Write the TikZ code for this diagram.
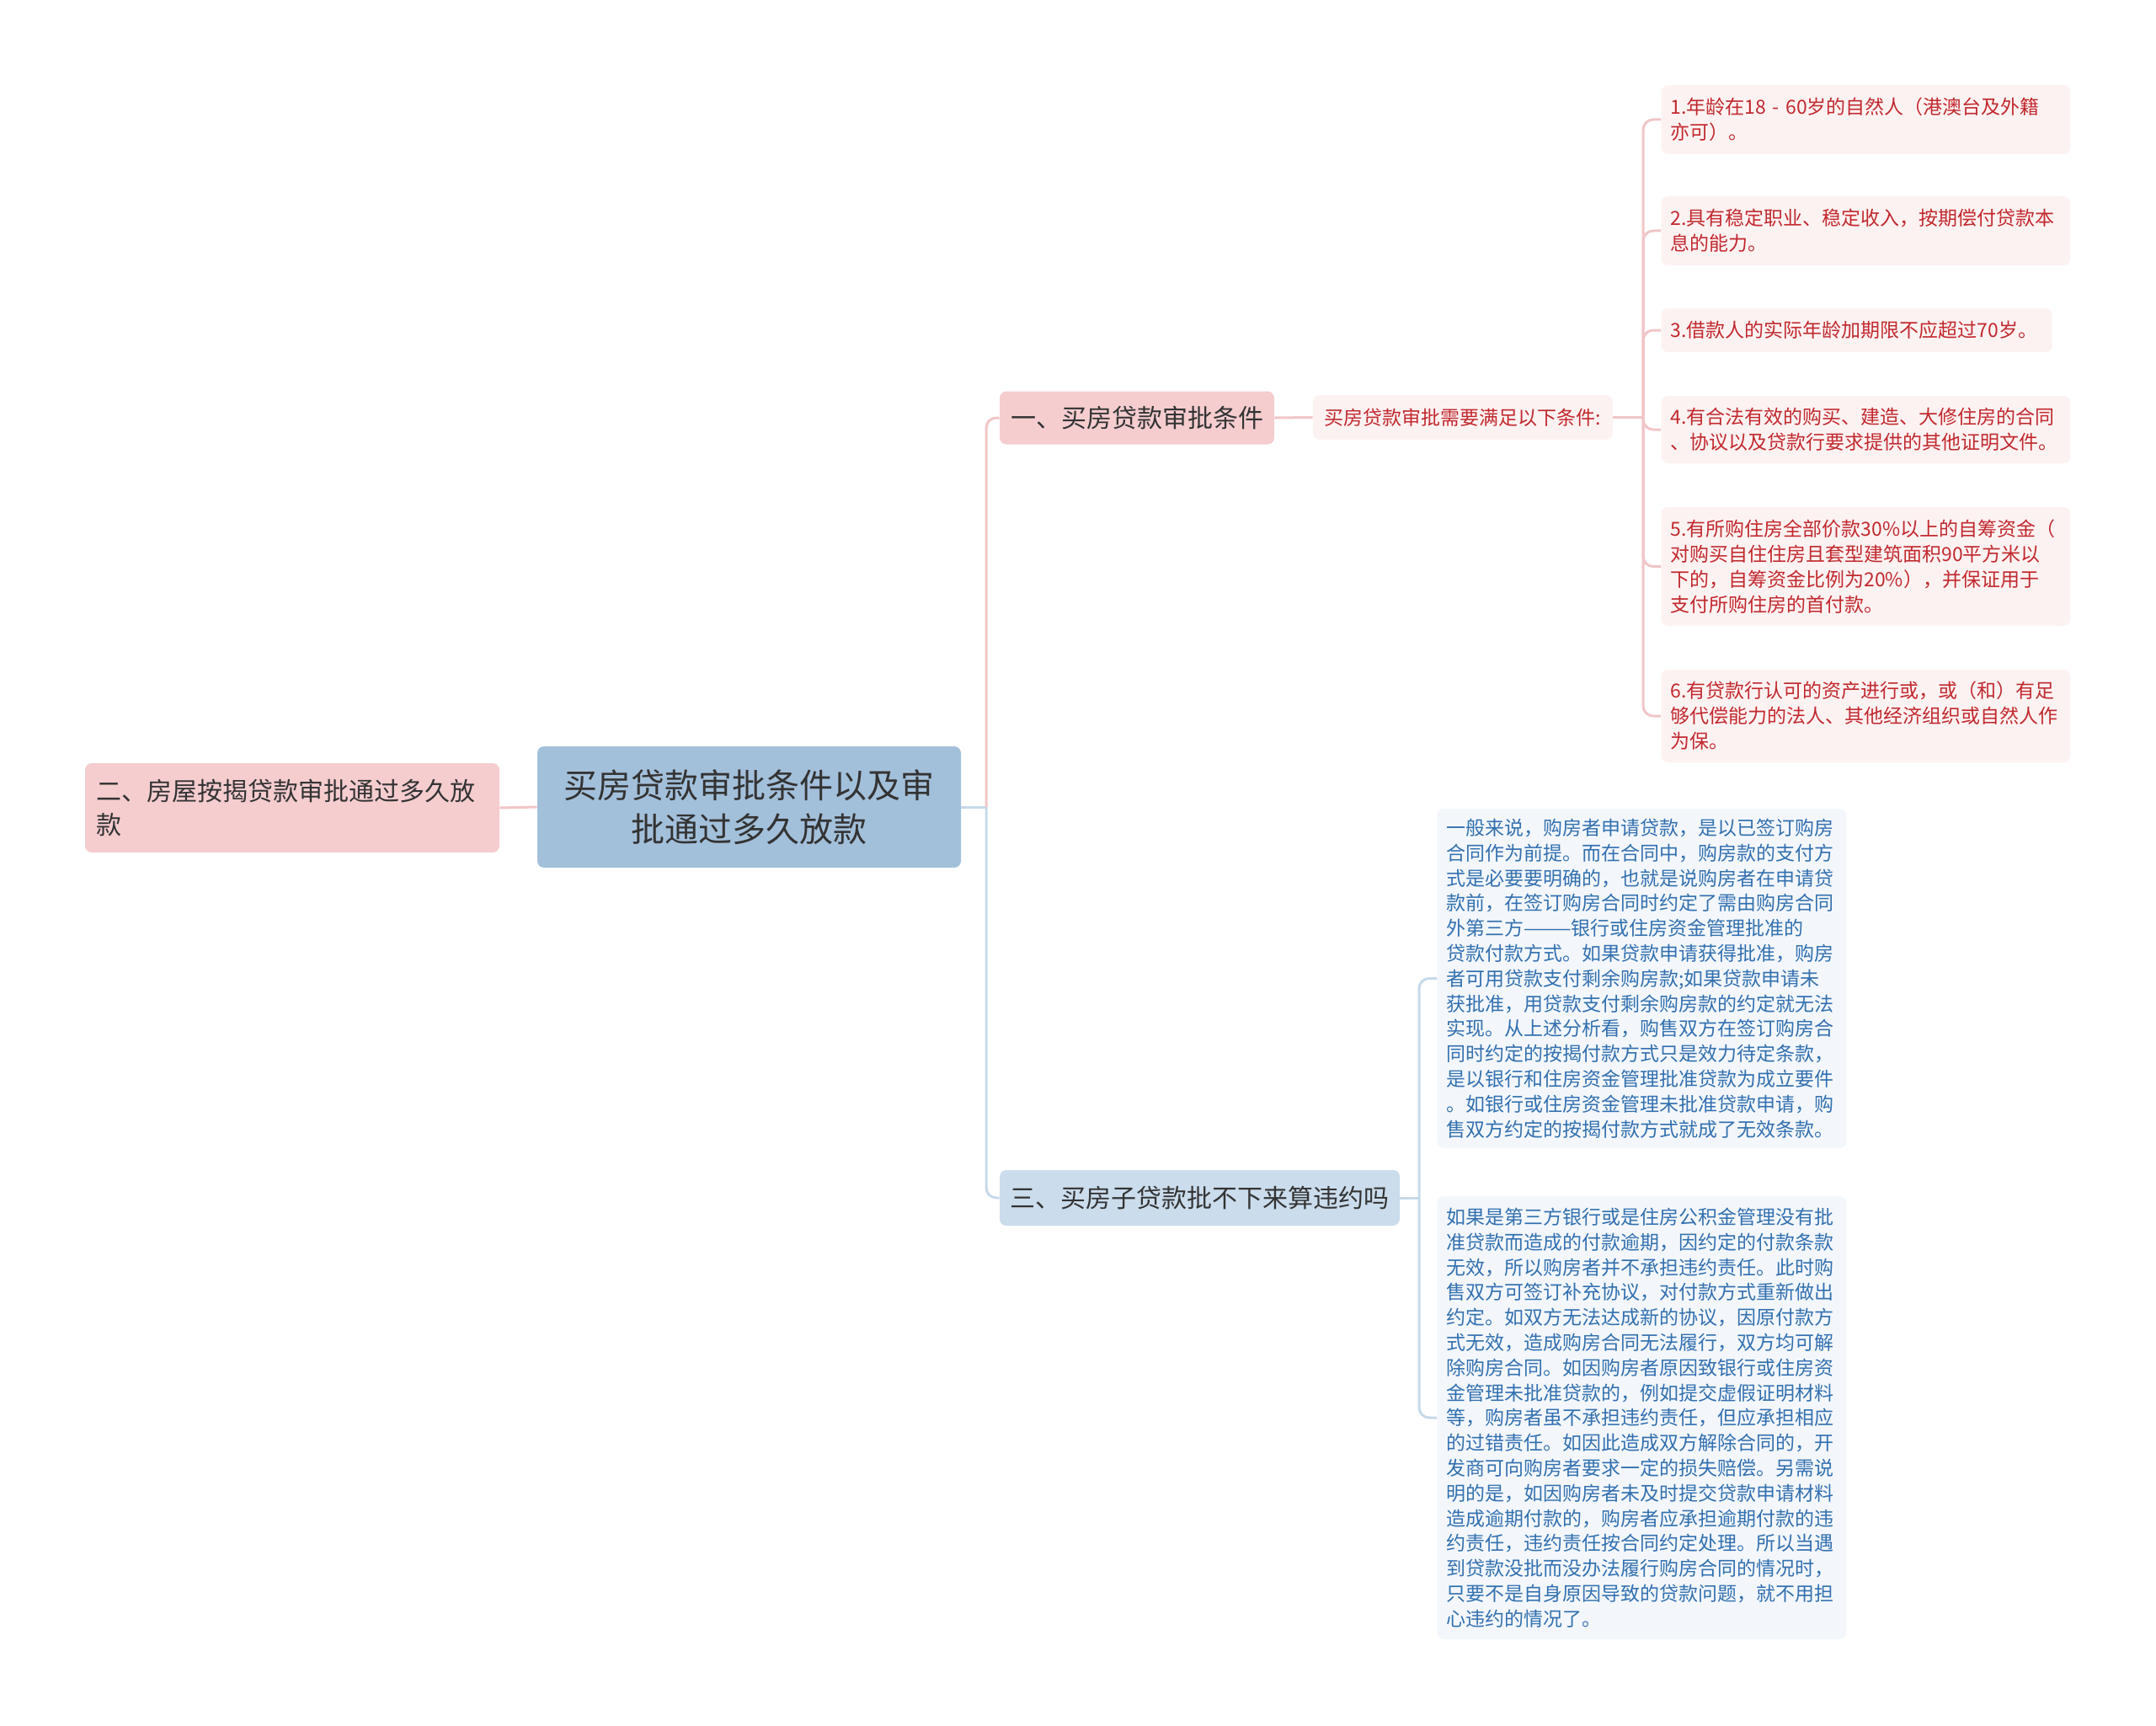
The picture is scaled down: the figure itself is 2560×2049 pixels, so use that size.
\documentclass[tikz,border=0pt]{standalone}
\usepackage{fontspec}
\setmainfont{Noto Sans CJK SC}
\usepackage{tikz}

\definecolor{rootblue}{HTML}{A3C0DB}
\definecolor{branchpink}{HTML}{F5CDCF}
\definecolor{branchblue}{HTML}{CBDCEC}
\definecolor{leafpink}{HTML}{FDF2F2}
\definecolor{leafblue}{HTML}{F3F7FB}
\definecolor{leafred}{HTML}{C1292E}
\definecolor{leafbluetext}{HTML}{3370B0}
\definecolor{darktext}{HTML}{333333}
\definecolor{linepink}{HTML}{F1C5C7}
\definecolor{lineblue}{HTML}{C7D9EA}

\tikzstyle{root}=[rounded corners=4pt,fill=rootblue,text=darktext,align=center,font=\fontsize{20}{26}\selectfont,minimum width=251.5pt,minimum height=72pt]
\tikzstyle{branch}=[rounded corners=4pt,text=darktext,font=\fontsize{15}{19.6}\selectfont]
\tikzstyle{pinkleaf}=[rounded corners=4pt,fill=leafpink,text=leafred,anchor=west,align=left,text width=232pt,inner xsep=5.5pt,font=\fontsize{11.5}{15}\selectfont]
\tikzstyle{blueleaf}=[rounded corners=4pt,fill=leafblue,text=leafbluetext,anchor=west,align=left,text width=232pt,inner xsep=5.5pt,font=\fontsize{11.5}{14.9}\selectfont]
\tikzstyle{pinkline}=[draw=linepink,line width=1.5pt]
\tikzstyle{blueline}=[draw=lineblue,line width=1.5pt]

\begin{document}
\begin{tikzpicture}[x=0.5pt,y=-0.5pt]
  \useasboundingbox (0,0) rectangle (2560,2049);

  \node[root] (root) at (889.5,958) {买房贷款审批条件以及审\\批通过多久放款};

  \node[branch,fill=branchpink,minimum width=163pt,minimum height=31.5pt] (sec1) at (1350,496) {一、买房贷款审批条件};
  \node[branch,fill=branchpink,align=left,text width=233pt,inner xsep=6.5pt,minimum height=53pt] (sec2) at (347,959) {二、房屋按揭贷款审批通过多久放\\款};
  \node[branch,fill=branchblue,minimum width=237.5pt,minimum height=33pt] (sec3) at (1424.5,1422) {三、买房子贷款批不下来算违约吗};

  \node[rounded corners=4pt,fill=leafpink,text=leafred,font=\fontsize{11.5}{15}\selectfont,minimum width=178pt,minimum height=26.5pt] (sum) at (1737,495.5) {买房贷款审批需要满足以下条件:};

  \node[pinkleaf,minimum height=41pt] (p1) at (1972,142) {1.年龄在18 - 60岁的自然人（港澳台及外籍\\亦可）。};
  \node[pinkleaf,minimum height=41pt] (p2) at (1972,274) {2.具有稳定职业、稳定收入，按期偿付贷款本\\息的能力。};
  \node[pinkleaf,text width=221pt,minimum height=26pt] (p3) at (1972,392) {3.借款人的实际年龄加期限不应超过70岁。};
  \node[pinkleaf,minimum height=40pt] (p4) at (1972,510) {4.有合法有效的购买、建造、大修住房的合同\\、协议以及贷款行要求提供的其他证明文件。};
  \node[pinkleaf,minimum height=70.5pt] (p5) at (1972,672.5) {5.有所购住房全部价款30\%以上的自筹资金（\\对购买自住住房且套型建筑面积90平方米以\\下的，自筹资金比例为20\%），并保证用于\\支付所购住房的首付款。};
  \node[pinkleaf,minimum height=55pt] (p6) at (1972,850) {6.有贷款行认可的资产进行或，或（和）有足\\够代偿能力的法人、其他经济组织或自然人作\\为保。};

  \node[blueleaf,minimum height=201.5pt] (b1) at (1706,1161.5) {一般来说，购房者申请贷款，是以已签订购房\\
合同作为前提。而在合同中，购房款的支付方\\
式是必要要明确的，也就是说购房者在申请贷\\
款前，在签订购房合同时约定了需由购房合同\\
外第三方———银行或住房资金管理批准的\\
贷款付款方式。如果贷款申请获得批准，购房\\
者可用贷款支付剩余购房款;如果贷款申请未\\
获批准，用贷款支付剩余购房款的约定就无法\\
实现。从上述分析看，购售双方在签订购房合\\
同时约定的按揭付款方式只是效力待定条款，\\
是以银行和住房资金管理批准贷款为成立要件\\
。如银行或住房资金管理未批准贷款申请，购\\
售双方约定的按揭付款方式就成了无效条款。};
  \node[blueleaf,minimum height=263pt] (b2) at (1706,1683) {如果是第三方银行或是住房公积金管理没有批\\
准贷款而造成的付款逾期，因约定的付款条款\\
无效，所以购房者并不承担违约责任。此时购\\
售双方可签订补充协议，对付款方式重新做出\\
约定。如双方无法达成新的协议，因原付款方\\
式无效，造成购房合同无法履行，双方均可解\\
除购房合同。如因购房者原因致银行或住房资\\
金管理未批准贷款的，例如提交虚假证明材料\\
等，购房者虽不承担违约责任，但应承担相应\\
的过错责任。如因此造成双方解除合同的，开\\
发商可向购房者要求一定的损失赔偿。另需说\\
明的是，如因购房者未及时提交贷款申请材料\\
造成逾期付款的，购房者应承担逾期付款的违\\
约责任，违约责任按合同约定处理。所以当遇\\
到贷款没批而没办法履行购房合同的情况时，\\
只要不是自身原因导致的贷款问题，就不用担\\
心违约的情况了。};

  % branch points
  \coordinate (bus1) at (1171,958);
  \coordinate (bus2) at (1951,495.5);
  \coordinate (bus3) at (1685,1422);

  \draw[blueline] (root.east) -- (bus1);
  \draw[pinkline,rounded corners=6pt] (bus1) |- (sec1.west);
  \draw[blueline,rounded corners=6pt] (bus1) |- (sec3.west);
  \draw[pinkline] (root.west) -- (sec2.east);

  \draw[pinkline] (sec1.east) -- (sum.west);
  \draw[pinkline] (sum.east) -- (bus2);
  \foreach \leaf in {p1,p2,p3,p4,p5,p6}
  \draw[pinkline,rounded corners=6pt] (bus2) |- (\leaf.west);

  \draw[blueline] (sec3.east) -- (bus3);
  \foreach \leaf in {b1,b2}
  \draw[blueline,rounded corners=6pt] (bus3) |- (\leaf.west);
\end{tikzpicture}
\end{document}
